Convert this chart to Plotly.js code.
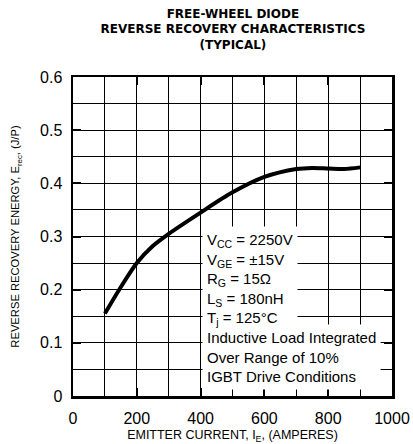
<!DOCTYPE html>
<html><head><meta charset="utf-8">
<script src="https://cdn.plot.ly/plotly-3.0.1.min.js"></script>
<style>html,body{margin:0;padding:0;background:#fff}</style>
</head><body><div id="chart" style="width:413px;height:444px"></div>
<script>
const current = [100, 150, 200, 250, 300, 400, 500, 600, 700, 750, 800, 850, 900];
const energy  = [0.155, 0.205, 0.25, 0.282, 0.305, 0.345, 0.383, 0.412, 0.427, 0.429, 0.428, 0.427, 0.43];
const xTicks = [0, 200, 400, 600, 800, 1000];
const yTicks = [0, 0.1, 0.2, 0.3, 0.4, 0.5, 0.6];
const titleLines = ["FREE-WHEEL DIODE", "REVERSE RECOVERY CHARACTERISTICS", "(TYPICAL)"];
const conditionLines = [
  "V<sub>CC</sub> = 2250V",
  "V<sub>GE</sub> = \u00b115V",
  "R<sub>G</sub> = 15\u03a9",
  "L<sub>S</sub> = 180nH",
  "T<sub>j</sub> = 125\u00b0C"
];
const noteLines = [
  "Inductive Load Integrated",
  "Over Range of 10%",
  "IGBT Drive Conditions"
];

const font = "Arial, 'Liberation Sans', sans-serif";
const boxFont = {family: font, size: 15, color: '#000'};

const annotations = [
  {
    text: noteLines.join('<br>'), x: 404, y: 0.0743, xref: 'x', yref: 'y',
    xanchor: 'left', yanchor: 'middle', align: 'left', showarrow: false,
    bgcolor: '#ffffff', borderpad: 4, font: boxFont
  },
  {
    text: conditionLines.join('<br>'), x: 404, y: 0.219, xref: 'x', yref: 'y',
    xanchor: 'left', yanchor: 'middle', align: 'left', showarrow: false,
    bgcolor: '#ffffff', borderpad: 4, font: boxFont
  }
];

const trace = {
  x: current, y: energy, mode: 'lines', type: 'scatter',
  line: {color: '#000', width: 4, shape: 'spline', smoothing: 0.8},
  hoverinfo: 'skip'
};

const axisCommon = {
  showline: true, linecolor: '#000', linewidth: 2.5, mirror: 'ticks',
  ticks: 'inside', ticklen: 8, tickwidth: 2, tickcolor: '#000',
  showgrid: true, gridcolor: '#000', gridwidth: 1, zeroline: false,
  tickfont: {family: font, size: 16, color: '#000'}
};

const layout = {
  width: 413, height: 444,
  margin: {l: 73, r: 21, t: 77, b: 48},
  paper_bgcolor: '#fff', plot_bgcolor: '#fff',
  showlegend: false,
  title: {
    text: '<b>' + titleLines.join('<br>') + '</b>',
    x: 0.564, xanchor: 'center', y: 0.96, yanchor: 'middle',
    font: {family: "'DejaVu Sans', sans-serif", size: 12, color: '#000'}
  },
  xaxis: Object.assign({}, axisCommon, {
    range: [0, 1000], tickvals: xTicks, ticktext: xTicks.map(String),
    ticklabelstandoff: 6,
    minor: {dtick: 100, showgrid: true, gridcolor: '#000', gridwidth: 1, ticks: ''},
    title: {text: 'EMITTER CURRENT, I<sub>E</sub>, (AMPERES)', standoff: 14,
            font: {family: font, size: 12.5, color: '#000'}}
  }),
  yaxis: Object.assign({}, axisCommon, {
    range: [0, 0.6], tickvals: yTicks, ticktext: yTicks.map(v => v === 0 ? '0' : v.toFixed(1)),
    ticklabelstandoff: 5,
    minor: {dtick: 0.05, showgrid: true, gridcolor: '#000', gridwidth: 1, ticks: ''},
    title: {text: 'REVERSE RECOVERY ENERGY, E<sub>rec</sub>, (J/P)', standoff: 18,
            font: {family: font, size: 11.2, color: '#000'}}
  }),
  annotations: annotations
};

Plotly.newPlot('chart', [trace], layout, {displayModeBar: false, staticPlot: true});
</script></body></html>
